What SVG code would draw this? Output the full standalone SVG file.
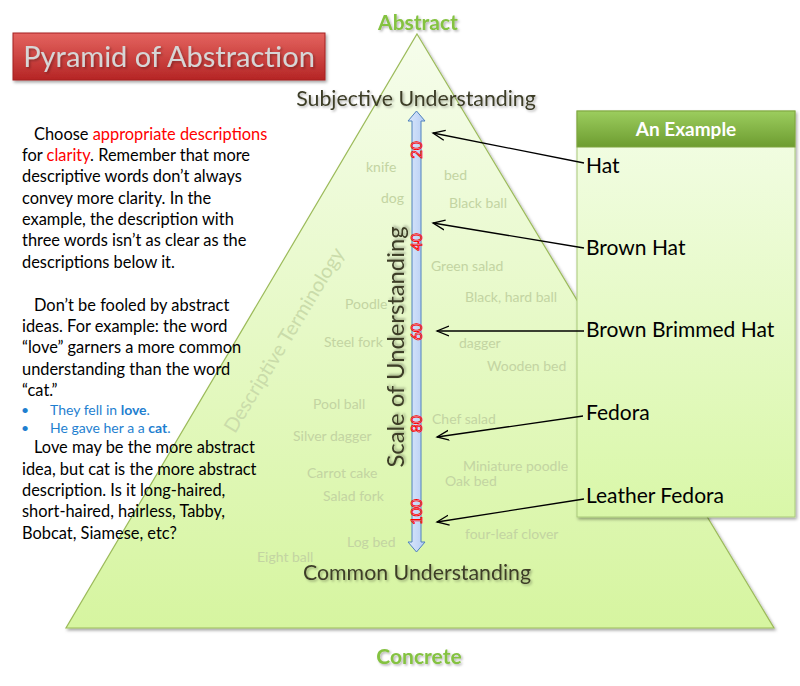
<svg xmlns="http://www.w3.org/2000/svg" width="800" height="686" viewBox="0 0 800 686">
<defs>
<linearGradient id="pyr" x1="0" y1="0" x2="0" y2="1">
<stop offset="0" stop-color="#f6fdec"/>
<stop offset="1" stop-color="#d6f5a0"/>
</linearGradient>
<linearGradient id="red" x1="0" y1="0" x2="0" y2="1">
<stop offset="0" stop-color="#e4645f"/>
<stop offset="1" stop-color="#b52525"/>
</linearGradient>
<linearGradient id="hdr" x1="0" y1="0" x2="0" y2="1">
<stop offset="0" stop-color="#9ccd5e"/>
<stop offset="1" stop-color="#6d9c30"/>
</linearGradient>
<linearGradient id="body" x1="0" y1="0" x2="0" y2="1">
<stop offset="0" stop-color="#f3fde6"/>
<stop offset="1" stop-color="#d9f7a8"/>
</linearGradient>
<linearGradient id="blue" x1="0" y1="0" x2="1" y2="0">
<stop offset="0" stop-color="#dbe7fb"/>
<stop offset="1" stop-color="#b4cdf4"/>
</linearGradient>
<filter id="sh" x="-10%" y="-10%" width="130%" height="130%">
<feDropShadow dx="1.5" dy="2" stdDeviation="1.5" flood-color="#000" flood-opacity="0.35"/>
</filter>
<filter id="tsh" x="-10%" y="-30%" width="130%" height="170%">
<feDropShadow dx="1.5" dy="1.5" stdDeviation="1" flood-color="#000" flood-opacity="0.3"/>
</filter>
<marker id="open" markerWidth="14" markerHeight="12" refX="12" refY="6" orient="auto" markerUnits="userSpaceOnUse">
<path d="M0,1 L12,6 L0,11" fill="none" stroke="#000" stroke-width="1.3"/>
</marker>
<style>
text{font-family:Lato,"Liberation Sans",sans-serif}
.body{font-size:16.4px;fill:#000}
.red{fill:#ff0000}
.blue{fill:#1f7fd0;font-size:14px}
.faint{font-size:14px;fill:#c3d4a2}
.big{font-size:21.3px;fill:#3d3d28}
.ex{font-size:21px;fill:#000}
.num{font-size:15px;fill:none;stroke:#ff0000;stroke-width:0.8}
.green{font-size:21px;font-weight:bold;fill:#84c241}
.conn{stroke:#000;stroke-width:1.3;fill:none;marker-end:url(#open)}
</style>
</defs>

<g id="pyramid">
<polygon points="417,34 774,628 66,628" fill="url(#pyr)" stroke="#9cbb5a" stroke-width="1.2" filter="url(#sh)"/>
</g>

<g id="label-abstract"><text class="green" x="418" y="30" text-anchor="middle" filter="url(#tsh)">Abstract</text></g>
<g id="label-concrete"><text class="green" x="419" y="664" text-anchor="middle" filter="url(#tsh)">Concrete</text></g>

<g id="title">
<rect x="13" y="33" width="312" height="47" fill="url(#red)" stroke="#a52020" stroke-width="1" filter="url(#sh)"/>
<text x="169" y="67" text-anchor="middle" font-size="29" fill="#d6d6d6" filter="url(#tsh)">Pyramid of Abstraction</text>
</g>

<g id="faint-words">
<text class="faint" transform="translate(284,340) rotate(-58.8)" text-anchor="middle" dy="7" style="font-size:20px;fill:#cadcaa">Descriptive Terminology</text>
<text class="faint" x="366" y="172">knife</text>
<text class="faint" x="444" y="180">bed</text>
<text class="faint" x="381" y="203">dog</text>
<text class="faint" x="449" y="208">Black ball</text>
<text class="faint" x="431" y="271">Green salad</text>
<text class="faint" x="465" y="302">Black, hard ball</text>
<text class="faint" x="345" y="309">Poodle</text>
<text class="faint" x="324" y="347">Steel fork</text>
<text class="faint" x="459" y="348">dagger</text>
<text class="faint" x="487" y="371">Wooden bed</text>
<text class="faint" x="313" y="409">Pool ball</text>
<text class="faint" x="432" y="424">Chef salad</text>
<text class="faint" x="293" y="441">Silver dagger</text>
<text class="faint" x="463" y="471">Miniature poodle</text>
<text class="faint" x="307" y="478">Carrot cake</text>
<text class="faint" x="445" y="486">Oak bed</text>
<text class="faint" x="323" y="501">Salad fork</text>
<text class="faint" x="465" y="539">four-leaf clover</text>
<text class="faint" x="347" y="547">Log bed</text>
<text class="faint" x="257" y="562">Eight ball</text>
</g>

<g id="subjective"><text class="big" x="416" y="106" text-anchor="middle" filter="url(#tsh)">Subjective Understanding</text></g>
<g id="common"><text class="big" x="417" y="580" text-anchor="middle" filter="url(#tsh)">Common Understanding</text></g>

<g id="scale">
<path d="M416.5,111 L425,121 L421,121 L421,542 L425,542 L416.5,552 L408,542 L412,542 L412,121 L408,121 Z" fill="url(#blue)" stroke="#4f81bd" stroke-width="1"/>
<text class="num" transform="translate(417,150) rotate(-90)" text-anchor="middle" dy="5">20</text>
<text class="num" transform="translate(417,242) rotate(-90)" text-anchor="middle" dy="5">40</text>
<text class="num" transform="translate(417,332) rotate(-90)" text-anchor="middle" dy="5">60</text>
<text class="num" transform="translate(417,424) rotate(-90)" text-anchor="middle" dy="5">80</text>
<text class="num" transform="translate(417,512) rotate(-90)" text-anchor="middle" dy="5">100</text>
<text transform="translate(404,347) rotate(-90)" text-anchor="middle" font-size="23.8" fill="#3d3d28" filter="url(#tsh)">Scale of Understanding</text>
</g>

<g id="example">
<rect x="577" y="111" width="218" height="406" fill="url(#body)" stroke="#a9c97a" stroke-width="1" filter="url(#sh)"/>
<rect x="577" y="111" width="218" height="36" fill="url(#hdr)" stroke="#7ea43f" stroke-width="1"/>
<text x="686" y="136" text-anchor="middle" font-size="19" font-weight="bold" fill="#ffffff">An Example</text>
<text class="ex" x="586" y="173">Hat</text>
<text class="ex" x="586" y="255">Brown Hat</text>
<text class="ex" x="586" y="337">Brown Brimmed Hat</text>
<text class="ex" x="586" y="420">Fedora</text>
<text class="ex" x="586" y="503">Leather Fedora</text>
</g>

<g id="connectors">
<line class="conn" x1="584" y1="163" x2="433" y2="133"/>
<line class="conn" x1="584" y1="248" x2="433" y2="223"/>
<line class="conn" x1="584" y1="331" x2="437" y2="331"/>
<line class="conn" x1="583" y1="416" x2="437" y2="437"/>
<line class="conn" x1="584" y1="499" x2="437" y2="522"/>
</g>

<g id="left-text">
<text class="body" x="34" y="140">Choose <tspan class="red">appropriate descriptions</tspan></text>
<text class="body" x="22" y="161">for <tspan class="red">clarity</tspan>. Remember that more</text>
<text class="body" x="22" y="182">descriptive words don’t always</text>
<text class="body" x="22" y="204">convey more clarity. In the</text>
<text class="body" x="22" y="225">example, the description with</text>
<text class="body" x="22" y="246">three words isn’t as clear as the</text>
<text class="body" x="22" y="268">descriptions below it.</text>
<text class="body" x="34" y="311">Don’t be fooled by abstract</text>
<text class="body" x="22" y="332">ideas. For example: the word</text>
<text class="body" x="22" y="353">“love” garners a more common</text>
<text class="body" x="22" y="375">understanding than the word</text>
<text class="body" x="22" y="396">“cat.”</text>
<text class="blue" x="21" y="415">•</text>
<text class="blue" x="50" y="415">They fell in <tspan font-weight="bold">love</tspan>.</text>
<text class="blue" x="21" y="433">•</text>
<text class="blue" x="50" y="433">He gave her a a <tspan font-weight="bold">cat</tspan>.</text>
<text class="body" x="34" y="453">Love may be the more abstract</text>
<text class="body" x="22" y="475">idea, but cat is the more abstract</text>
<text class="body" x="22" y="496">description. Is it long-haired,</text>
<text class="body" x="22" y="517">short-haired, hairless, Tabby,</text>
<text class="body" x="22" y="539">Bobcat, Siamese, etc?</text>
</g>
</svg>
